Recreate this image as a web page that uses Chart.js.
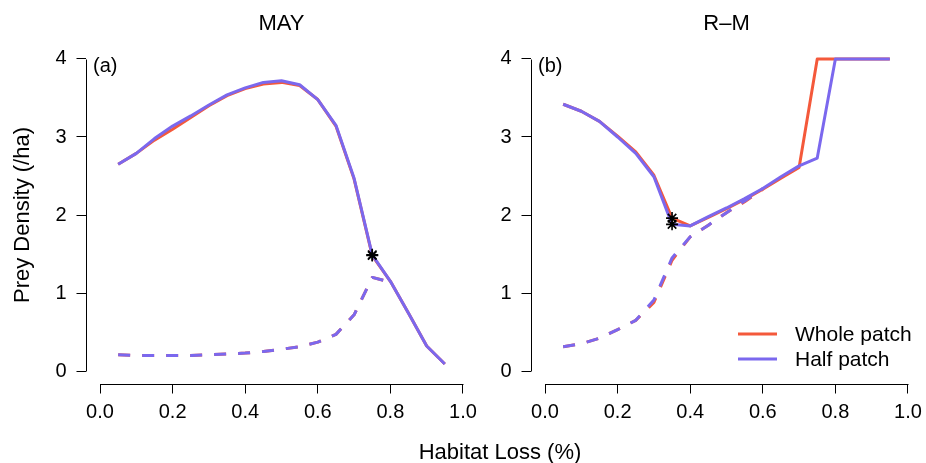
<!DOCTYPE html>
<html>
<head>
<meta charset="utf-8">
<script src="https://cdn.jsdelivr.net/npm/chart.js@4.4.0/dist/chart.umd.min.js"></script>
<style>
  html, body { margin: 0; padding: 0; background: #fff; }
  #figura { position: relative; width: 926px; height: 463px; font-family: "Liberation Sans", Arial, sans-serif; }
  #figura canvas { position: absolute; top: 0; }
  #ejeX { position: absolute; left: 500px; top: 439px; transform: translateX(-50%);
          font-size: 22px; line-height: 26px; color: #000; white-space: nowrap; }
</style>
</head>
<body>
<div id="figura">
  <canvas id="panelMay" width="480" height="463" style="left:0"></canvas>
  <canvas id="panelRM" width="446" height="463" style="left:480px"></canvas>
  <div id="ejeX">Habitat Loss (%)</div>
</div>
<script>
// Niveles de perdida de habitat (eje x)
const lossLevels = [0.05, 0.10, 0.15, 0.20, 0.25, 0.30, 0.35, 0.40, 0.45, 0.50,
                    0.55, 0.60, 0.65, 0.70, 0.75, 0.80, 0.85, 0.90, 0.95];

// Ticks de los ejes
const xTickValues = [0, 0.2, 0.4, 0.6, 0.8, 1.0];
const xTickLabels = ['0.0', '0.2', '0.4', '0.6', '0.8', '1.0'];
const yTickValues = [0, 1, 2, 3, 4];
const yTickLabels = ['0', '1', '2', '3', '4'];

const seriesLabels = ['Whole patch', 'Half patch'];

// Panel (a) MAY: rama superior (solida) y rama inferior (discontinua)
const mayWholeUpper = [2.65, 2.79, 2.96, 3.10, 3.25, 3.40, 3.53, 3.62, 3.68, 3.70,
                       3.66, 3.48, 3.14, 2.46, 1.48, 1.15, 0.74, 0.32, 0.09];
const mayHalfUpper  = [2.65, 2.79, 2.98, 3.14, 3.27, 3.41, 3.54, 3.63, 3.70, 3.72,
                       3.67, 3.48, 3.15, 2.47, 1.49, 1.15, 0.74, 0.32, 0.09];
const mayWholeLower = [0.21, 0.20, 0.20, 0.20, 0.20, 0.21, 0.22, 0.23, 0.25, 0.28,
                       0.31, 0.37, 0.47, 0.72, 1.20, 1.14];
const mayHalfLower  = [0.21, 0.20, 0.20, 0.20, 0.20, 0.21, 0.22, 0.23, 0.25, 0.28,
                       0.31, 0.37, 0.47, 0.72, 1.20, 1.14];
// Puntos de bifurcacion (asteriscos)
const mayMarkX = [0.75, 0.75];
const mayMarkY = [1.48, 1.49];

// Panel (b) R-M
const rmWholeUpper = [3.42, 3.33, 3.20, 3.01, 2.81, 2.51, 1.96, 1.86, 1.97, 2.08,
                      2.20, 2.33, 2.47, 2.61, 4.00, 4.00, 4.00, 4.00, 4.00];
const rmHalfUpper  = [3.42, 3.33, 3.20, 3.00, 2.79, 2.49, 1.88, 1.86, 1.98, 2.09,
                      2.21, 2.34, 2.49, 2.63, 2.73, 4.00, 4.00, 4.00, 4.00];
const rmWholeLower = [0.31, 0.35, 0.42, 0.53, 0.65, 0.88, 1.42, 1.72, 1.87, 2.03,
                      2.17, 2.33];
const rmHalfLower  = [0.31, 0.35, 0.42, 0.53, 0.65, 0.91, 1.45, 1.72, 1.87, 2.03,
                      2.18, 2.34];
const rmMarkX = [0.35, 0.35];
const rmMarkY = [1.96, 1.88];

const colorWhole = '#F4593B';
const colorHalf = '#7B68EE';

Chart.defaults.font.family = '"Liberation Sans", Arial, Helvetica, sans-serif';
Chart.defaults.color = '#000';

const toPoints = (ys) => ys.map((y, i) => ({ x: lossLevels[i], y: y }));

function lineSet(label, ys, color, dashed, order) {
  return {
    label: label,
    data: toPoints(ys),
    borderColor: color,
    backgroundColor: color,
    borderWidth: 3,
    borderDash: dashed ? [12, 12] : [],
    borderJoinStyle: 'round',
    pointRadius: 0,
    tension: 0,
    order: order
  };
}

// Ejes al estilo R: la linea del eje solo va del primer al ultimo tick
const rAxisLines = {
  id: 'rAxisLines',
  afterDraw(chart) {
    const { ctx, chartArea, scales } = chart;
    const x = scales.x, y = scales.y;
    ctx.save();
    ctx.strokeStyle = '#000';
    ctx.lineWidth = 1;
    ctx.beginPath();
    const by = Math.round(chartArea.bottom) + 0.5;
    ctx.moveTo(Math.round(x.getPixelForValue(xTickValues[0])) + 0.5, by);
    ctx.lineTo(Math.round(x.getPixelForValue(xTickValues[xTickValues.length - 1])) + 0.5, by);
    const lx = Math.round(chartArea.left) + 0.5;
    ctx.moveTo(lx, Math.round(y.getPixelForValue(yTickValues[0])) + 0.5);
    ctx.lineTo(lx, Math.round(y.getPixelForValue(yTickValues[yTickValues.length - 1])) + 0.5);
    ctx.stroke();

    // Etiqueta del panel, (a) o (b)
    const tag = chart.options.plugins.rAxisLines.tag;
    ctx.fillStyle = '#000';
    ctx.font = '20px "Liberation Sans", Arial, sans-serif';
    ctx.textAlign = 'left';
    ctx.textBaseline = 'middle';
    ctx.fillText(tag, chartArea.left + 7.5, chartArea.top + 19.5);

    // Leyenda dentro del area del grafico
    if (chart.options.plugins.rAxisLines.legend) {
      const colors = [colorWhole, colorHalf];
      ctx.font = '21px "Liberation Sans", Arial, sans-serif';
      seriesLabels.forEach((txt, i) => {
        const yy = chartArea.bottom - 49.5 + i * 25;
        ctx.strokeStyle = colors[i];
        ctx.lineWidth = 3;
        ctx.beginPath();
        ctx.moveTo(chartArea.right - 184.5, yy);
        ctx.lineTo(chartArea.right - 145.5, yy);
        ctx.stroke();
        ctx.fillText(txt, chartArea.right - 127.5, yy + 1);
      });
    }
    ctx.restore();
  }
};

function makePanel(canvasId, opts) {
  const datasets = [
    lineSet(seriesLabels[0], opts.wholeUpper, colorWhole, false, 2),
    lineSet(seriesLabels[0], opts.wholeLower, colorWhole, true, 2),
    lineSet(seriesLabels[1], opts.halfUpper, colorHalf, false, 1),
    lineSet(seriesLabels[1], opts.halfLower, colorHalf, true, 1),
    {
      label: 'bifurcation',
      data: opts.markX.map((x, i) => ({ x: x, y: opts.markY[i] })),
      showLine: false,
      pointStyle: 'star',
      pointRadius: 6,
      pointBorderColor: '#000',
      pointBorderWidth: 1.6,
      order: 0
    }
  ];

  return new Chart(document.getElementById(canvasId), {
    type: 'line',
    data: { datasets: datasets },
    plugins: [rAxisLines],
    options: {
      responsive: false,
      animation: false,
      // sin relleno automatico por el tamano de los puntos
      layout: { autoPadding: false, padding: { left: 0, right: opts.padRight, top: 0, bottom: 0 } },
      plugins: {
        legend: { display: false },
        tooltip: { enabled: false },
        title: {
          display: true,
          text: opts.title,
          fullSize: false,
          color: '#000',
          font: { size: 22, weight: 'normal' },
          padding: { top: 11, bottom: 9.1 }
        },
        rAxisLines: { tag: opts.tag, legend: opts.legend }
      },
      scales: {
        x: {
          type: 'linear',
          min: -0.04,
          max: 1.04,
          afterBuildTicks: (s) => { s.ticks = xTickValues.map(v => ({ value: v })); },
          // alto fijo y sin margen extra para las etiquetas de los extremos
          afterFit: (s) => { s.height = 79.5; s.paddingLeft = 0; s.paddingRight = 0; },
          ticks: {
            callback: (v, i) => xTickLabels[i],
            font: { size: 20 },
            color: '#000',
            padding: 7,
            maxRotation: 0,
            autoSkip: false
          },
          grid: { drawOnChartArea: false, tickLength: 10, color: '#000', lineWidth: 1 },
          border: { display: false }
        },
        y: {
          type: 'linear',
          min: -0.16,
          max: 4.16,
          afterBuildTicks: (s) => { s.ticks = yTickValues.map(v => ({ value: v })); },
          afterFit: (s) => { s.width = opts.yWidth; s.paddingTop = 0; s.paddingBottom = 0; },
          ticks: {
            callback: (v, i) => yTickLabels[i],
            font: { size: 20 },
            color: '#000',
            padding: 10,
            autoSkip: false
          },
          grid: { drawOnChartArea: false, tickLength: 9, color: '#000', lineWidth: 1 },
          border: { display: false },
          title: {
            display: opts.yTitle !== '',
            text: opts.yTitle,
            color: '#000',
            font: { size: 22 },
            padding: { top: 10, bottom: 0 }
          }
        }
      }
    }
  });
}

makePanel('panelMay', {
  title: 'MAY', tag: '(a)', legend: false,
  wholeUpper: mayWholeUpper, halfUpper: mayHalfUpper,
  wholeLower: mayWholeLower, halfLower: mayHalfLower,
  markX: mayMarkX, markY: mayMarkY,
  yWidth: 85.5, padRight: 2.5, yTitle: 'Prey Density (/ha)'
});

makePanel('panelRM', {
  title: 'R\u2013M', tag: '(b)', legend: true,
  wholeUpper: rmWholeUpper, halfUpper: rmHalfUpper,
  wholeLower: rmWholeLower, halfLower: rmHalfLower,
  markX: rmMarkX, markY: rmMarkY,
  yWidth: 50.5, padRight: 3.5, yTitle: ''
});
</script>
</body>
</html>
